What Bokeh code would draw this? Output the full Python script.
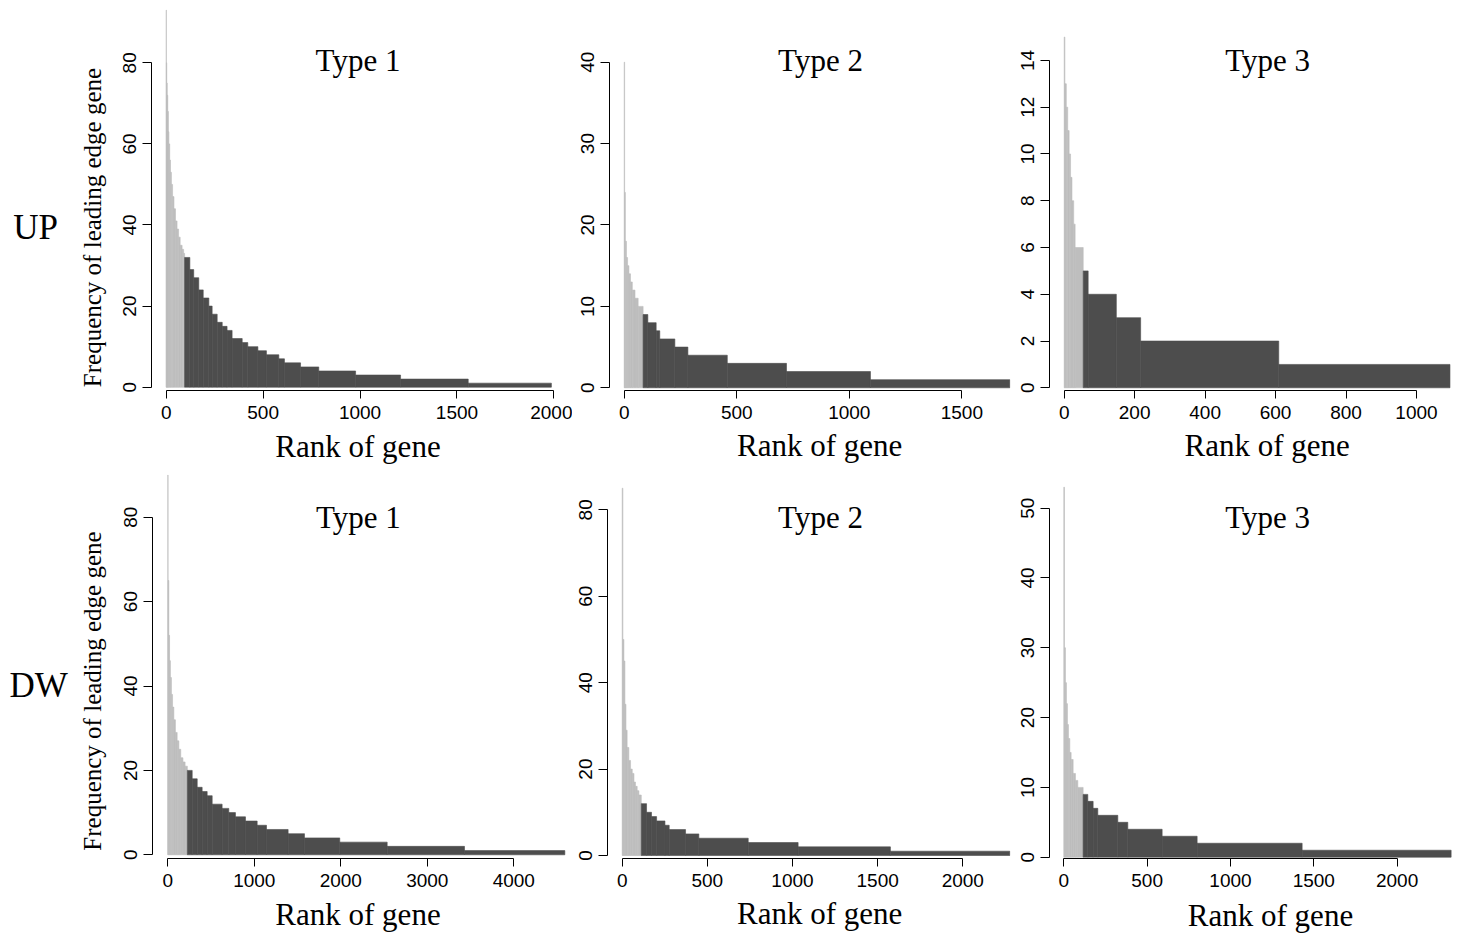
import math
from bokeh.plotting import figure
from bokeh.layouts import row, column
from bokeh.models import Label, FixedTicker, Range1d
from bokeh.embed import file_html
from bokeh.resources import INLINE

# ---------------- data: rank where each frequency run ends, and its frequency ----------------
# light grey = leading-edge genes, dark grey = the remaining genes
UP1_lead_end = [1, 3, 5, 8, 11, 14, 18, 22, 27, 33, 40, 48, 56, 64, 72, 82, 90, 95]
UP1_lead_freq = [93, 80, 75, 72, 68, 63, 60, 56, 53, 50, 47, 44, 41, 39, 37, 35, 34, 33]
UP1_rest_end = [122, 142, 168, 191, 220, 237, 263, 289, 314, 340, 392, 421, 473, 517, 581, 610,
                693, 787, 977, 1209, 1558, 1987]
UP1_rest_freq = [32, 29, 27, 24, 22, 20, 18, 16, 15, 14, 12, 11, 10, 9, 8, 7, 6, 5, 4, 3, 2, 1]

UP2_lead_end = [2, 5, 10, 15, 21, 28, 36, 48, 62, 84]
UP2_lead_freq = [40, 24, 18, 16, 15, 14, 13, 12, 11, 10]
UP2_rest_end = [105, 142, 158, 225, 283, 458, 721, 1094, 1713]
UP2_rest_freq = [9, 8, 7, 6, 5, 4, 3, 2, 1]

UP3_lead_end = [2, 6, 10, 14, 18, 22, 27, 31, 54]
UP3_lead_freq = [15, 13, 12, 11, 10, 9, 8, 7, 6]
UP3_rest_end = [68, 148, 217, 609, 1095]
UP3_rest_freq = [5, 4, 3, 2, 1]

DW1_lead_end = [3, 12, 20, 30, 42, 55, 70, 88, 108, 128, 150, 175, 200, 226]
DW1_lead_freq = [90, 65, 52, 46, 42, 38, 35, 32, 29, 27, 25, 23, 22, 21]
DW1_rest_end = [282, 340, 397, 455, 513, 628, 705, 782, 898, 1033, 1141, 1391, 1580, 1988,
                2536, 3430, 4590]
DW1_rest_freq = [20, 18, 16, 15, 14, 12, 11, 10, 9, 8, 7, 6, 5, 4, 3, 2, 1]

DW2_lead_end = [4, 10, 16, 22, 29, 39, 49, 59, 69, 78, 88, 98, 112]
DW2_lead_freq = [85, 50, 45, 35, 29, 25, 22, 20, 19, 17, 16, 15, 14]
DW2_rest_end = [143, 172, 202, 251, 276, 372, 450, 740, 1033, 1575, 2276]
DW2_rest_freq = [12, 10, 9, 8, 7, 6, 5, 4, 3, 2, 1]

DW3_lead_end = [4, 10, 16, 22, 28, 36, 44, 56, 70, 84, 116]
DW3_lead_freq = [53, 30, 25, 22, 19, 17, 15, 14, 12, 11, 10]
DW3_rest_end = [144, 176, 204, 324, 384, 590, 800, 1430, 2324]
DW3_rest_freq = [9, 8, 7, 6, 5, 4, 3, 2, 1]

# tick labels
UP1_xticks = [0, 500, 1000, 1500, 2000]
UP1_yticks = [0, 20, 40, 60, 80]
UP2_xticks = [0, 500, 1000, 1500]
UP2_yticks = [0, 10, 20, 30, 40]
UP3_xticks = [0, 200, 400, 600, 800, 1000]
UP3_yticks = [0, 2, 4, 6, 8, 10, 12, 14]
DW1_xticks = [0, 1000, 2000, 3000, 4000]
DW1_yticks = [0, 20, 40, 60, 80]
DW2_xticks = [0, 500, 1000, 1500, 2000]
DW2_yticks = [0, 20, 40, 60, 80]
DW3_xticks = [0, 500, 1000, 1500, 2000]
DW3_yticks = [0, 10, 20, 30, 40, 50]

titles = ["Type 1", "Type 2", "Type 3"]
row_labels = ["UP", "DW"]
x_label = "Rank of gene"
y_label = "Frequency of leading edge gene"

LIGHT = "#BEBEBE"
DARK = "#4D4D4D"
SERIF = "Liberation Serif"
SANS = "Liberation Sans"
W = 1464


def base(y, fs):
    # anchor that puts the glyph baseline at page position y
    return y - 0.3375 * fs


# ---------------- panel geometry (page pixels) ----------------
# name: (frame_left_on_page, frame_top_on_page, border_left, frame_w, border_right,
#        border_top, frame_h, border_bottom, x_range, y_range)
geo = {
    "UP1": (151, 5, 37, 411, 10, 5, 385, 37, (-75.83, 2044.36), (-0.814, 94.13)),
    "UP2": (609, 5, 37, 401, 2, 5, 385, 37, (-65.30, 1716.1), (-0.332, 46.96)),
    "UP3": (1049, 5, 37, 409, 6, 5, 385, 37, (-41.73, 1119.2), (-0.115, 16.35)),
    "DW1": (152, 473, 37, 414, 4, 3, 385, 37, (-176.9, 4609.2), (-0.877, 90.36)),
    "DW2": (607, 473, 37, 403, 2, 3, 385, 37, (-86.32, 2280.1), (-0.694, 88.41)),
    "DW3": (1049, 473, 37, 409, 6, 3, 385, 37, (-85.8, 2368.2), (-0.186, 54.97)),
}


def blank(width, height, x0, y0):
    """A figure without axes whose data coordinates are page pixels."""
    p = figure(frame_width=width, frame_height=height,
               min_border_left=0, min_border_right=0, min_border_top=0, min_border_bottom=0,
               x_range=Range1d(x0, x0 + width), y_range=Range1d(y0 + height, y0),
               x_axis_location=None, y_axis_location=None,
               output_backend="svg", toolbar_location=None,
               background_fill_color="white", border_fill_color="white")
    p.outline_line_color = None
    p.grid.visible = False
    return p


def txt(p, x, y, text, fs, align="center", angle=0.0, font=SERIF):
    p.add_layout(Label(x=x, y=y, text=text, angle=angle, text_font=font,
                       text_font_size=f"{fs}px", text_align=align,
                       text_baseline="alphabetic", text_color="black"))


def runs(ends, start):
    return [start] + ends[:-1], ends


def panel(name, lead_end, lead_freq, rest_end, rest_freq, xticks, yticks, title, title_pos):
    fl, ft, bl, fw, br, bt, fh, bb, xr, yr = geo[name]
    p = figure(frame_width=fw, frame_height=fh,
               min_border_left=bl, min_border_right=br,
               min_border_top=bt, min_border_bottom=bb,
               x_range=xr, y_range=yr,
               output_backend="svg", toolbar_location=None,
               background_fill_color="white", border_fill_color="white")
    p.outline_line_color = None
    p.grid.visible = False

    l, r = runs(lead_end, 0)
    p.quad(left=l, right=r, bottom=0, top=lead_freq,
           fill_color=LIGHT, line_color=LIGHT, line_width=0.6)
    l, r = runs(rest_end, lead_end[-1])
    p.quad(left=l, right=r, bottom=0, top=rest_freq,
           fill_color=DARK, line_color=DARK, line_width=0.6)

    for ax, ticks, tout, orient, so in ((p.xaxis, xticks, 8, "horizontal", 7),
                                        (p.yaxis, yticks, 9, "vertical", 6)):
        ax.ticker = FixedTicker(ticks=ticks)
        ax.bounds = (ticks[0], ticks[-1])
        ax.axis_line_color = "black"
        ax.axis_line_width = 1
        ax.major_tick_line_color = "black"
        ax.major_tick_in = 0
        ax.major_tick_out = tout
        ax.minor_tick_line_color = None
        ax.major_label_text_font = SANS
        ax.major_label_text_font_size = "19px"
        ax.major_label_text_color = "black"
        ax.major_label_orientation = orient
        ax.major_label_standoff = so

    # panel title inside the frame (position given in page pixels: centre x, baseline y)
    px, py = title_pos
    tx = xr[0] + (px - fl) / fw * (xr[1] - xr[0])
    ty = yr[1] - (base(py, 31) - ft) / fh * (yr[1] - yr[0])
    p.add_layout(Label(x=tx, y=ty, text=title, text_font=SERIF,
                       text_font_size="31px", text_align="center",
                       text_baseline="alphabetic", text_color="black"))
    return p


pA = panel("UP1", UP1_lead_end, UP1_lead_freq, UP1_rest_end, UP1_rest_freq,
           UP1_xticks, UP1_yticks, titles[0], (357.5, 70))
pB = panel("UP2", UP2_lead_end, UP2_lead_freq, UP2_rest_end, UP2_rest_freq,
           UP2_xticks, UP2_yticks, titles[1], (820, 70))
pC = panel("UP3", UP3_lead_end, UP3_lead_freq, UP3_rest_end, UP3_rest_freq,
           UP3_xticks, UP3_yticks, titles[2], (1267.2, 70))
pD = panel("DW1", DW1_lead_end, DW1_lead_freq, DW1_rest_end, DW1_rest_freq,
           DW1_xticks, DW1_yticks, titles[0], (357.8, 527.3))
pE = panel("DW2", DW2_lead_end, DW2_lead_freq, DW2_rest_end, DW2_rest_freq,
           DW2_xticks, DW2_yticks, titles[1], (820, 527.3))
pF = panel("DW3", DW3_lead_end, DW3_lead_freq, DW3_rest_end, DW3_rest_freq,
           DW3_xticks, DW3_yticks, titles[2], (1267.2, 527.3))

# left label columns (row label + y-axis title)
L1 = blank(114, 427, 0, 0)
txt(L1, 12.8, base(233.7, 35), row_labels[0], 35, align="left")
txt(L1, 100 - 0.3375 * 25, 222, y_label, 25, angle=math.pi / 2)

L2 = blank(115, 425, 0, 470)
txt(L2, 8.9, base(693.7, 35), row_labels[1], 35, align="left")
txt(L2, 100 - 0.3375 * 25, 687.5, y_label, 25, angle=math.pi / 2)

# x-axis title strips
S1 = blank(W, 43, 0, 427)
for xc, yb in ((357.5, 456), (819.2, 455), (1266.7, 455)):
    txt(S1, xc, base(yb, 31), x_label, 31)

S2 = blank(W, 43, 0, 895)
for xc, yb in ((357.5, 924), (819.2, 923), (1270, 925)):
    txt(S2, xc, base(yb, 31), x_label, 31)

layout = column(row(L1, pA, pB, pC, spacing=0), S1,
                row(L2, pD, pE, pF, spacing=0), S2, spacing=0)

html = file_html(layout, INLINE, title="Leading edge gene frequency")
html = html.replace("<head>", "<head><style>html,body{margin:0;padding:0;}</style>", 1)
open("out.html", "w").write(html)
